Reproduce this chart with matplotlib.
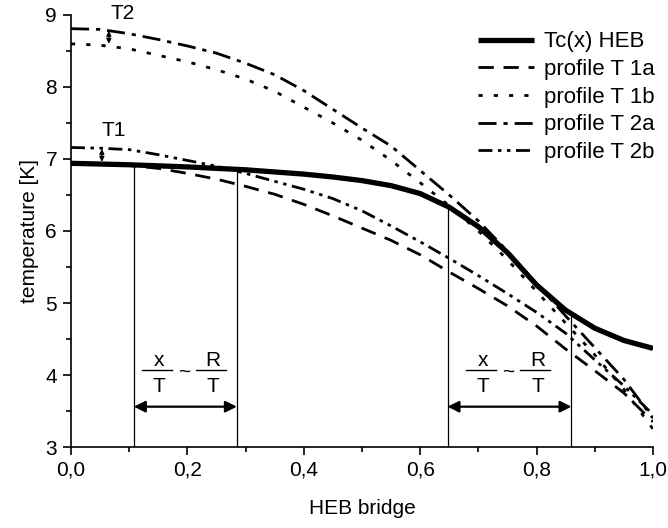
import numpy as np
import matplotlib
matplotlib.use("Agg")
import matplotlib.pyplot as plt
from matplotlib.ticker import FuncFormatter, MultipleLocator

plt.rcParams["font.family"] = ["Liberation Sans", "DejaVu Sans"]
plt.rcParams["lines.scale_dashes"] = False

# position along the HEB bridge (normalised)
x_pos = [0.00, 0.05, 0.10, 0.15, 0.20, 0.25, 0.30, 0.35, 0.40, 0.45, 0.50,
         0.55, 0.60, 0.65, 0.70, 0.75, 0.80, 0.85, 0.90, 0.95, 1.00]

# critical temperature along the bridge [K]
tc_heb = [6.94, 6.93, 6.92, 6.905, 6.89, 6.87, 6.85, 6.82, 6.79, 6.75, 6.70,
          6.63, 6.52, 6.33, 6.06, 5.70, 5.25, 4.90, 4.65, 4.48, 4.37]

# temperature profiles [K]
profile_1a = [6.94, 6.93, 6.91, 6.87, 6.80, 6.72, 6.62, 6.51, 6.37, 6.21, 6.04,
              5.87, 5.67, 5.43, 5.20, 4.96, 4.68, 4.36, 4.06, 3.75, 3.35]
profile_1b = [8.60, 8.58, 8.53, 8.44, 8.35, 8.24, 8.11, 7.94, 7.72, 7.50, 7.26,
              6.98, 6.67, 6.35, 6.00, 5.60, 5.16, 4.72, 4.28, 3.80, 3.25]
profile_2a = [8.81, 8.80, 8.74, 8.66, 8.57, 8.47, 8.33, 8.17, 7.95, 7.69, 7.43,
              7.18, 6.84, 6.50, 6.14, 5.72, 5.27, 4.82, 4.38, 3.94, 3.40]
profile_2b = [7.16, 7.15, 7.13, 7.06, 6.98, 6.90, 6.80, 6.69, 6.58, 6.45, 6.28,
              6.07, 5.85, 5.62, 5.38, 5.13, 4.87, 4.58, 4.21, 3.85, 3.45]

labels = ["Tc(x) HEB", "profile T 1a", "profile T 1b", "profile T 2a", "profile T 2b"]

# boundaries of the two marked regions
region_left = [0.108, 0.285]
region_right = [0.647, 0.860]

FS = 15

fig = plt.figure(figsize=(6.68, 5.28), dpi=100)
ax = fig.add_axes([0.1063, 0.1534, 0.8712, 0.8182])

ax.plot(x_pos, tc_heb, color="k", lw=3.8, solid_capstyle="butt", label=labels[0])
ax.plot(x_pos, profile_1a, color="k", lw=2.0, dashes=(11, 7), label=labels[1])
ax.plot(x_pos, profile_1b, color="k", lw=2.0, dashes=(3, 8), label=labels[2])
ax.plot(x_pos, profile_2a, color="k", lw=2.0, dashes=(13, 5, 3, 5), label=labels[3])
ax.plot(x_pos, profile_2b, color="k", lw=2.0, dashes=(10, 4, 2.5, 4, 2.5, 4), label=labels[4])

ax.set_xlim(0, 1.0)
ax.set_ylim(3, 9)

# vertical markers from the axis up to Tc(x)
for xv in region_left + region_right:
    ax.plot([xv, xv], [3, np.interp(xv, x_pos, tc_heb)], color="k", lw=0.9)

# width arrows and the x/T ~ R/T labels
arrow_y = 3.56
bar_y = 4.07
for (xa, xb) in (region_left, region_right):
    ax.annotate("", xy=(xb, arrow_y), xytext=(xa, arrow_y),
                arrowprops=dict(arrowstyle="<|-|>", color="k", lw=1.6,
                                mutation_scale=17, shrinkA=0, shrinkB=0))
    mid = 0.5 * (xa + xb)
    for cx, num in ((mid - 0.049, "x"), (mid + 0.044, "R")):
        ax.plot([cx - 0.026, cx + 0.026], [bar_y, bar_y], color="k", lw=1.0)
        ax.text(cx + 0.004, bar_y + 0.06, num, ha="center", va="baseline", fontsize=FS)
        ax.text(cx + 0.004, bar_y - 0.10, "T", ha="center", va="top", fontsize=FS)
    ax.text(mid - 0.002, bar_y - 0.03, "~", ha="center", va="center", fontsize=FS)

# temperature offsets T1 and T2
small = dict(arrowstyle="<|-|>", color="k", lw=1.0, mutation_scale=7, shrinkA=0, shrinkB=0)
ax.annotate("", xy=(0.065, profile_2a[1] - 0.02), xytext=(0.065, profile_1b[1] + 0.02), arrowprops=small)
ax.annotate("", xy=(0.053, profile_2b[1] - 0.01), xytext=(0.053, tc_heb[1] + 0.03), arrowprops=small)
ax.text(0.088, 9.02, "T2", ha="center", va="center", fontsize=FS)
ax.text(0.074, 7.40, "T1", ha="center", va="center", fontsize=FS)

for s in ("top", "right"):
    ax.spines[s].set_visible(False)
for s in ("left", "bottom"):
    ax.spines[s].set_linewidth(1.2)

ax.xaxis.set_major_locator(MultipleLocator(0.2))
ax.xaxis.set_minor_locator(MultipleLocator(0.1))
ax.yaxis.set_major_locator(MultipleLocator(1))
ax.yaxis.set_minor_locator(MultipleLocator(0.5))
ax.xaxis.set_major_formatter(FuncFormatter(lambda v, p: f"{v:.1f}".replace(".", ",")))
ax.yaxis.set_major_formatter(FuncFormatter(lambda v, p: f"{v:.0f}"))
ax.tick_params(which="major", direction="out", length=6, width=1.2, labelsize=FS, pad=4)
ax.tick_params(which="minor", direction="out", length=3.5, width=1.2)

ax.set_xlabel("HEB bridge", fontsize=FS, labelpad=14)
ax.set_ylabel("temperature [K]", fontsize=FS, labelpad=5)

ax.legend(loc="upper right", bbox_to_anchor=(1.0, 0.966), bbox_transform=fig.transFigure,
          frameon=False, fontsize=16, handlelength=2.5, handletextpad=0.45,
          labelspacing=0.3, borderaxespad=0.2)

fig.savefig("out.png", dpi=100)
